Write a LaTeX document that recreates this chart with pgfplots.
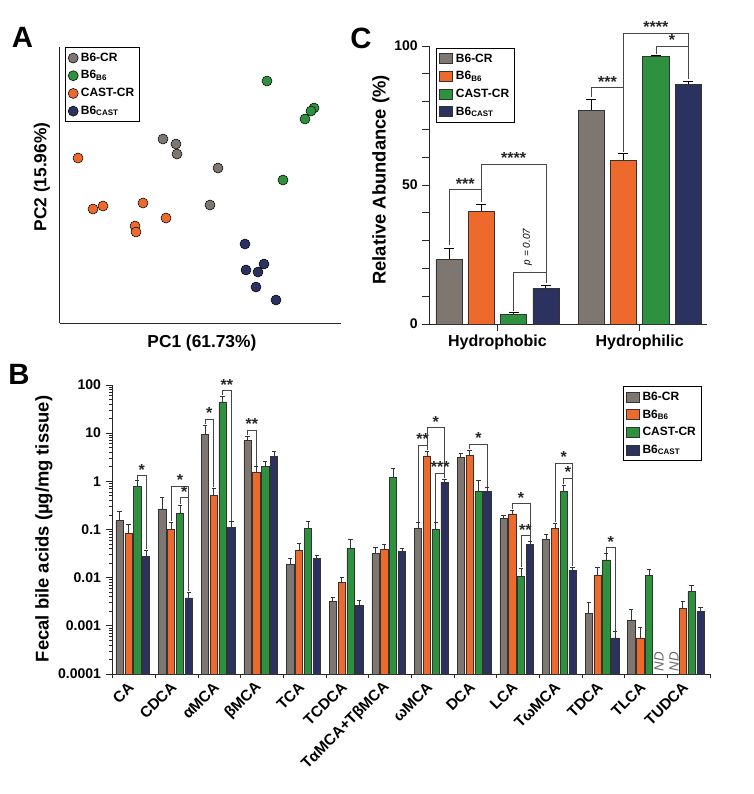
\documentclass[border=0pt]{standalone}
\usepackage{fontspec}
\setmainfont{Liberation Sans}
\usepackage{pgfplots}
\usepackage{pgfplotstable}
\pgfplotsset{compat=1.18}

\definecolor{cgray}{RGB}{126,118,112}
\definecolor{corange}{RGB}{238,106,44}
\definecolor{cgreen}{RGB}{45,145,62}
\definecolor{cnavy}{RGB}{44,50,96}
\definecolor{brkgray}{RGB}{70,70,70}

\newcommand{\fs}[1]{\fontsize{#1}{#1}\selectfont}
% significance bracket: x1,y1 (left leg bottom), x2,y2 (right leg bottom), ytop, stars
\newcommand{\sig}[6]{%
  \draw[brkgray, line width=0.5pt] (axis cs:#1,#2) -- (axis cs:#1,#5)
    -- node[anchor=south, inner sep=0pt, font=\fs{12}\bfseries, text=black!85] {#6} (axis cs:#3,#5)
    -- (axis cs:#3,#4);}

\pgfplotsset{
  sqleg/.style={legend image code/.code={\draw[##1] (0pt,-3.5pt) rectangle (10pt,4pt);}},
  gbar/.style={fill=cgray, draw=black!80},
  obar/.style={fill=corange, draw=black!80},
  ebar/.style={fill=cgreen, draw=black!80},
  nbar/.style={fill=cnavy, draw=black!80},
  % error bar = comb from the base to mean+error, drawn behind the bar, with a cap
  errC/.style={forget plot, ycomb, black, line width=0.75pt,
    mark=-, mark size=3.75pt, mark options={solid, line width=0.75pt}},
  errB/.style={forget plot, ycomb, black!80, line width=0.5pt,
    mark=-, mark size=1.6pt, mark options={solid, line width=0.5pt}},
}

% panel C: g = group (0 hydrophobic, 1 hydrophilic), y = mean (%), e = error (+)
\pgfplotstableread{
g y e
0 23.1 4.1
1 76.7 4.1
}\cgr
\pgfplotstableread{
g y e
0 40.5 2.5
1 58.9 2.4
}\cor
\pgfplotstableread{
g y e
0 3.6 0.4
1 96.3 0.3
}\cgn
\pgfplotstableread{
g y e
0 12.9 1.0
1 86.3 1.0
}\cnv

% panel B: c = category index, y = mean, e = error (+)
\pgfplotstableread{
c y e
0 0.152 0.082
1 0.267 0.199
2 9.6 5.2
3 7.0 1.7
4 0.019 0.0058
5 0.0032 0.0008
6 0.0315 0.0118
7 0.104 0.037
8 3.15 0.72
9 0.171 0.026
10 0.0625 0.0185
11 0.0018 0.0013
12 0.00132 0.00088
}\bgr
\pgfplotstableread{
c y e
0 0.083 0.045
1 0.102 0.041
2 0.52 0.196
3 1.51 0.53
4 0.0375 0.0141
5 0.0081 0.0021
6 0.0387 0.0103
7 3.36 0.94
8 3.46 0.94
9 0.21 0.044
10 0.104 0.030
11 0.0114 0.005
12 0.00056 0.00036
13 0.0023 0.001
}\bor
\pgfplotstableread{
c y e
0 0.80 0.23
1 0.217 0.106
2 44.4 14.6
3 2.08 0.52
4 0.106 0.044
5 0.0413 0.0212
6 1.21 0.65
7 0.10 0.04
8 0.62 0.43
9 0.0105 0.0055
10 0.61 0.23
11 0.0233 0.0087
12 0.011 0.0039
13 0.0052 0.0018
}\bgn
\pgfplotstableread{
c y e
0 0.028 0.0095
1 0.0038 0.0012
2 0.111 0.035
3 3.3 0.83
4 0.0248 0.0047
5 0.00267 0.00073
6 0.0358 0.0049
7 0.968 0.152
8 0.61 0.14
9 0.049 0.008
10 0.0144 0.0022
11 0.00056 0.0002
13 0.002 0.0004
}\bnv

\begin{document}
\begin{tikzpicture}
\path[use as bounding box] (0,0) rectangle (565.5pt,-595.5pt);

% ---------------- panel A ----------------
\begin{axis}[
  at={(45pt,-242.25pt)}, anchor=south west,
  scale only axis, width=210.75pt, height=207pt,
  xmin=60, xmax=341, ymin=-323, ymax=-47,
  axis x line*=bottom, axis y line*=left,
  axis line style={-, line width=0.75pt, black!85},
  xtick=\empty, ytick=\empty,
  xlabel={PC1 (61.73\%)}, ylabel={PC2 (15.96\%)},
  xlabel style={at={(axis description cs:0.505,-0.072)}, anchor=center, font=\fs{13}\bfseries},
  ylabel style={at={(axis description cs:-0.064,0.529)}, anchor=center, font=\fs{13}\bfseries},
  legend style={at={(axis description cs:0.018,1)}, anchor=north west, draw=black,
    line width=0.75pt, font=\fs{9}\bfseries, row sep=1.5pt, inner sep=2pt},
  legend cell align=left,
  clip=false,
]
\addplot[only marks, mark=*, mark size=3.75pt, mark options={fill=cgray, draw=black, line width=0.4pt}]
  coordinates {(163,-139) (176,-144) (177,-154) (218,-168) (210,-205)};
\addlegendentry{B6-CR}
\addplot[only marks, mark=*, mark size=3.75pt, mark options={fill=cgreen, draw=black, line width=0.4pt}]
  coordinates {(267,-81) (314,-108) (311,-111) (305,-119) (283,-180)};
\addlegendentry{B6\textsubscript{B6}}
\addplot[only marks, mark=*, mark size=3.75pt, mark options={fill=corange, draw=black, line width=0.4pt}]
  coordinates {(78,-158) (93,-209) (103,-206) (143,-203) (166,-218) (135,-226) (136,-232)};
\addlegendentry{CAST-CR}
\addplot[only marks, mark=*, mark size=3.75pt, mark options={fill=cnavy, draw=black, line width=0.4pt}]
  coordinates {(245,-244) (246,-270) (258,-272) (264,-264) (256,-287) (276,-300)};
\addlegendentry{B6\textsubscript{CAST}}
\end{axis}

% ---------------- panel C ----------------
\begin{axis}[
  at={(321.75pt,-243pt)}, anchor=south west,
  scale only axis, width=208.5pt, height=208.5pt,
  xmin=-0.4817, xmax=1.4733, ymin=0, ymax=100,
  axis x line*=bottom, axis y line*=left,
  axis line style={-, line width=0.75pt, black!85},
  ytick={0,50,100}, yticklabels={0,50,100},
  minor ytick={10,20,30,40,60,70,80,90},
  xtick={0,1}, xticklabels={Hydrophobic,Hydrophilic},
  tick align=outside, major tick length=5pt, minor tick length=5pt,
  tick style={line width=0.75pt, black!85},
  yticklabel style={font=\fs{10.5}\bfseries},
  xticklabel style={font=\fs{12}\bfseries},
  ylabel={Relative Abundance (\%)},
  ylabel style={at={(axis description cs:-0.173,0.518)}, anchor=center, font=\fs{13.8}\bfseries},
  legend style={at={(axis description cs:0.025,0.993)}, anchor=north west, draw=black,
    line width=0.75pt, font=\fs{9}\bfseries, row sep=1.5pt, inner sep=2pt},
  legend cell align=left,
  clip=false,
]
\addplot[errC] table[x expr=\thisrow{g}-0.341, y expr=\thisrow{y}+\thisrow{e}] {\cgr};
\addplot[errC] table[x expr=\thisrow{g}-0.114, y expr=\thisrow{y}+\thisrow{e}] {\cor};
\addplot[errC] table[x expr=\thisrow{g}+0.114, y expr=\thisrow{y}+\thisrow{e}] {\cgn};
\addplot[errC] table[x expr=\thisrow{g}+0.341, y expr=\thisrow{y}+\thisrow{e}] {\cnv};
\addplot[ybar, bar width=0.183, bar shift=0pt, gbar, line width=0.6pt, sqleg]
  table[x expr=\thisrow{g}-0.341, y=y] {\cgr};
\addlegendentry{B6-CR}
\addplot[ybar, bar width=0.183, bar shift=0pt, obar, line width=0.6pt, sqleg]
  table[x expr=\thisrow{g}-0.114, y=y] {\cor};
\addlegendentry{B6\textsubscript{B6}}
\addplot[ybar, bar width=0.183, bar shift=0pt, ebar, line width=0.6pt, sqleg]
  table[x expr=\thisrow{g}+0.114, y=y] {\cgn};
\addlegendentry{CAST-CR}
\addplot[ybar, bar width=0.183, bar shift=0pt, nbar, line width=0.6pt, sqleg]
  table[x expr=\thisrow{g}+0.341, y=y] {\cnv};
\addlegendentry{B6\textsubscript{CAST}}
\sig{-0.341}{28.5}{-0.114}{44}{48.4}{***}
\sig{-0.114}{48.4}{0.341}{14.6}{57.6}{****}
\sig{0.114}{4.6}{0.341}{14.6}{18.5}{}
\node[rotate=90, font=\fs{7.5}\itshape] at (axis cs:0.211,27.7) {p = 0.07};
\sig{0.660}{81.5}{0.886}{62}{85.1}{***}
\sig{0.886}{85.1}{1.341}{100}{104.6}{****}
\sig{1.114}{97}{1.341}{88}{100}{*}
\end{axis}

% ---------------- panel B ----------------
\begin{axis}[
  at={(84.75pt,-505.5pt)}, anchor=south west,
  scale only axis, width=447.75pt, height=216.75pt,
  ymode=log, log origin=infty, ymin=1e-4, ymax=100,
  xmin=-0.5, xmax=13.5,
  axis x line*=bottom, axis y line*=left,
  axis line style={-, line width=0.75pt, black!85},
  ytick={1e-4,1e-3,1e-2,1e-1,1,10,100},
  yticklabels={0.0001,0.001,0.01,0.1,1,10,100},
  xtick={0,...,13},
  xticklabels={CA,CDCA,αMCA,βMCA,TCA,TCDCA,TαMCA+TβMCA,ωMCA,DCA,LCA,TωMCA,TDCA,TLCA,TUDCA},
  minor xtick={-0.5,0.5,...,13.5},
  major x tick style={draw=none},
  minor x tick style={line width=0.75pt, black!85},
  y tick style={line width=0.6pt, black!85},
  tick align=outside, major tick length=5.5pt, minor tick length=3pt,
  yticklabel style={font=\fs{10.5}\bfseries},
  xticklabel style={font=\fs{11.5}\bfseries, rotate=45, anchor=east},
  ylabel={Fecal bile acids (µg/mg tissue)},
  ylabel style={at={(axis description cs:-0.1156,0.502)}, anchor=center, font=\fs{13.8}\bfseries},
  legend style={at={(axis description cs:0.854,0.996)}, anchor=north west, draw=black,
    line width=0.75pt, font=\fs{9}\bfseries, row sep=1.5pt, inner sep=2pt},
  legend cell align=left,
  clip=false,
]
\addplot[errB] table[x expr=\thisrow{c}-0.345, y expr=\thisrow{y}+\thisrow{e}] {\bgr};
\addplot[errB] table[x expr=\thisrow{c}-0.138, y expr=\thisrow{y}+\thisrow{e}] {\bor};
\addplot[errB] table[x expr=\thisrow{c}+0.069, y expr=\thisrow{y}+\thisrow{e}] {\bgn};
\addplot[errB] table[x expr=\thisrow{c}+0.276, y expr=\thisrow{y}+\thisrow{e}] {\bnv};
\addplot[ybar, bar width=0.17, bar shift=0pt, gbar, line width=0.4pt, sqleg]
  table[x expr=\thisrow{c}-0.345, y=y] {\bgr};
\addlegendentry{B6-CR}
\addplot[ybar, bar width=0.17, bar shift=0pt, obar, line width=0.4pt, sqleg]
  table[x expr=\thisrow{c}-0.138, y=y] {\bor};
\addlegendentry{B6\textsubscript{B6}}
\addplot[ybar, bar width=0.17, bar shift=0pt, ebar, line width=0.4pt, sqleg]
  table[x expr=\thisrow{c}+0.069, y=y] {\bgn};
\addlegendentry{CAST-CR}
\addplot[ybar, bar width=0.17, bar shift=0pt, nbar, line width=0.4pt, sqleg]
  table[x expr=\thisrow{c}+0.276, y=y] {\bnv};
\addlegendentry{B6\textsubscript{CAST}}
\sig{0.069}{1.08}{0.276}{0.04}{1.33}{*}
\sig{0.862}{0.15}{1.276}{0.0053}{0.80}{*}
\sig{1.069}{0.34}{1.276}{0.0053}{0.458}{*}
\sig{1.655}{15.5}{1.862}{0.75}{19.4}{*}
\sig{2.069}{62}{2.276}{0.15}{76.3}{**}
\sig{2.655}{9.2}{2.862}{2.1}{11.6}{**}
\sig{6.655}{0.145}{6.862}{4.5}{5.68}{**}
\sig{6.862}{5.68}{7.276}{1.15}{13.2}{*}
\sig{7.069}{0.145}{7.276}{1.15}{1.47}{***}
\sig{7.862}{4.6}{8.276}{0.78}{5.96}{*}
\sig{8.862}{0.265}{9.276}{0.059}{0.349}{*}
\sig{9.069}{0.0165}{9.276}{0.059}{0.0756}{**}
\sig{9.862}{0.14}{10.276}{1.17}{2.37}{*}
\sig{10.069}{0.87}{10.276}{0.0172}{1.17}{*}
\sig{11.069}{0.033}{11.276}{0.0008}{0.042}{*}
\node[rotate=90, font=\fs{10}\itshape, text=black!60] at (axis cs:12.305,1.78e-4) {ND};
\node[rotate=90, font=\fs{10}\itshape, text=black!60] at (axis cs:12.657,1.78e-4) {ND};
\end{axis}

% panel letters
\node[font=\fs{22}\bfseries] at (16.9pt,-28.1pt) {A};
\node[font=\fs{22}\bfseries] at (14.25pt,-280.5pt) {B};
\node[font=\fs{22}\bfseries] at (270.75pt,-28.5pt) {C};
\end{tikzpicture}
\end{document}
